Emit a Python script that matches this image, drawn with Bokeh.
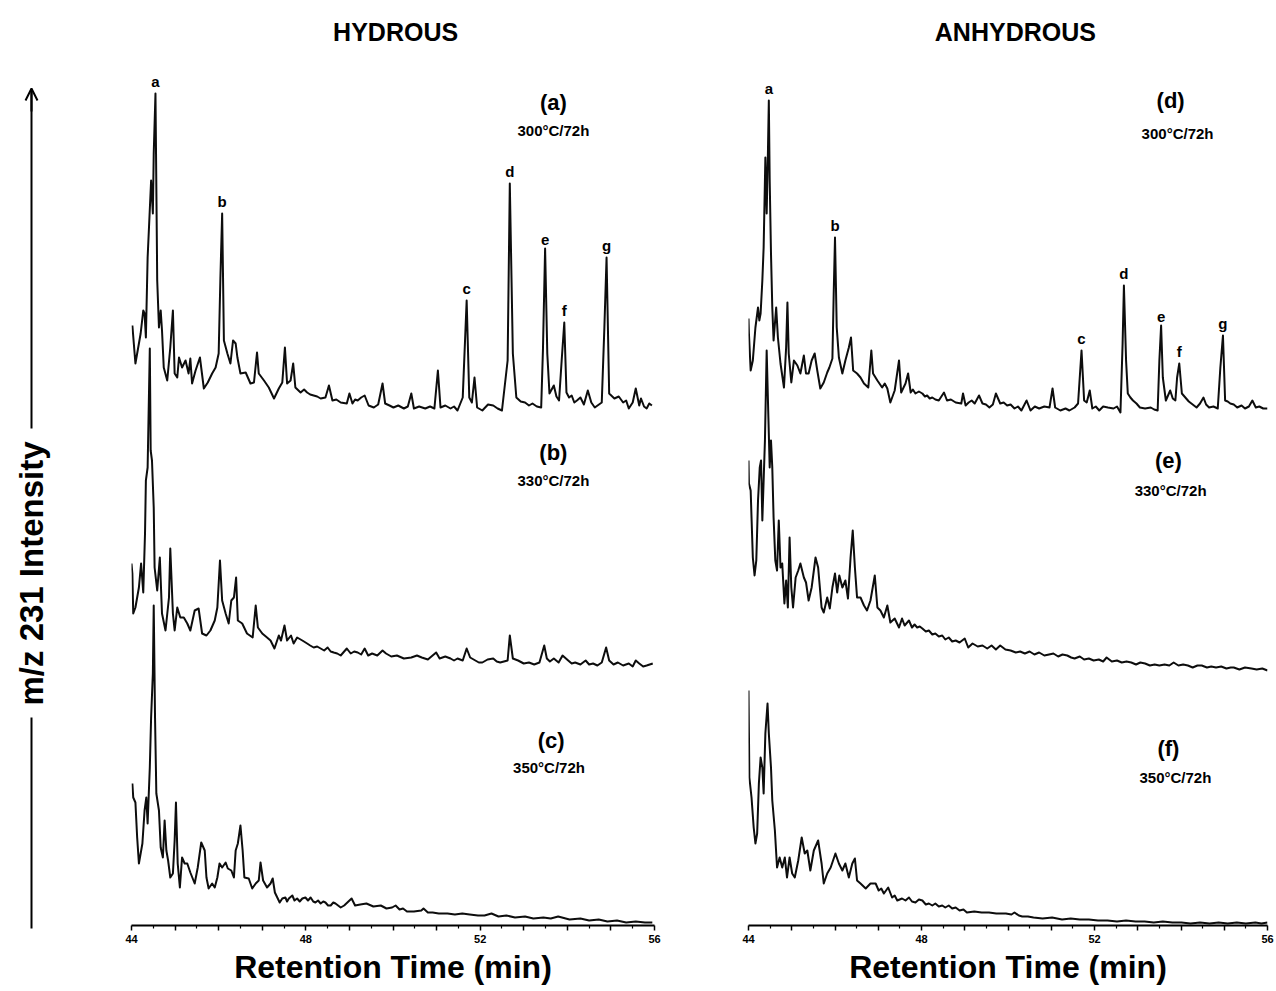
from math import pi
from bokeh.plotting import figure
from bokeh.layouts import row
from bokeh.models import Range1d, FixedTicker, Label, Arrow, OpenHead
from bokeh.embed import file_html
from bokeh.resources import INLINE

FONT = "Liberation Sans"

# ---------------- data ----------------
X_TICKS = list(range(44, 57))
X_MINOR = [44.5 + k for k in range(12)]
X_TICK_LABELS = {44: "44", 48: "48", 52: "52", 56: "56"}

PEAK_LETTERS = ["a", "b", "c", "d", "e", "f", "g"]
HYD_PEAK_T = [44.55, 46.08, 51.69, 52.68, 53.49, 53.93, 54.90]
ANH_PEAK_T = [44.47, 46.00, 51.70, 52.68, 53.54, 53.96, 54.97]

HYD_TAGS = ["(a)", "(b)", "(c)"]
ANH_TAGS = ["(d)", "(e)", "(f)"]
CONDITIONS = ["300°C/72h", "330°C/72h", "350°C/72h"]

# (retention time [min], m/z 231 intensity [arb.])
HYD_300 = [(44.02, 85), (44.09, 47), (44.21, 77), (44.27, 100), (44.30, 97), (44.33, 73), (44.37, 153),
           (44.45, 230), (44.49, 197), (44.51, 257), (44.55, 317), (44.59, 130), (44.63, 83), (44.67, 100),
           (44.70, 80), (44.74, 43), (44.82, 30), (44.89, 63), (44.95, 100), (44.99, 37), (45.05, 33),
           (45.09, 53), (45.16, 43), (45.24, 50), (45.31, 37), (45.35, 52), (45.39, 27), (45.47, 40),
           (45.57, 53), (45.66, 22), (45.75, 28), (45.85, 37), (45.93, 43), (46.00, 57), (46.04, 133),
           (46.08, 197), (46.12, 70), (46.20, 57), (46.27, 47), (46.33, 70), (46.39, 67), (46.43, 53),
           (46.50, 37), (46.62, 38), (46.73, 27), (46.81, 28), (46.88, 58), (46.92, 37), (47.04, 30),
           (47.15, 23), (47.27, 12), (47.38, 22), (47.46, 28), (47.52, 63), (47.57, 27), (47.65, 30),
           (47.71, 47), (47.76, 23), (47.88, 18), (47.96, 21), (48.03, 18), (48.10, 16), (48.18, 15),
           (48.26, 14), (48.34, 12), (48.45, 13), (48.53, 25), (48.61, 10), (48.70, 11), (48.80, 8),
           (48.94, 7), (49.00, 17), (49.07, 7), (49.13, 11), (49.19, 10), (49.27, 13), (49.35, 15),
           (49.44, 5), (49.56, 3), (49.66, 6), (49.76, 27), (49.82, 7), (49.92, 5), (50.01, 3),
           (50.12, 5), (50.25, 2), (50.34, 4), (50.42, 17), (50.48, 2), (50.60, 4), (50.74, 2),
           (50.85, 4), (50.95, 2), (51.03, 40), (51.09, 3), (51.20, 5), (51.32, 2), (51.40, 4),
           (51.48, 0), (51.60, 13), (51.69, 110), (51.75, 13), (51.81, 8), (51.87, 33), (51.93, 3),
           (52.05, 0), (52.18, 6), (52.30, 5), (52.40, 2), (52.50, 0), (52.63, 50), (52.68, 227),
           (52.75, 57), (52.83, 13), (52.93, 9), (53.03, 8), (53.12, 5), (53.20, 7), (53.30, 4),
           (53.40, 3), (53.44, 60), (53.49, 162), (53.54, 57), (53.59, 17), (53.69, 25), (53.75, 14),
           (53.81, 10), (53.87, 50), (53.93, 88), (53.98, 18), (54.04, 13), (54.10, 15), (54.16, 8),
           (54.22, 10), (54.30, 13), (54.38, 6), (54.47, 20), (54.55, 8), (54.63, 3), (54.79, 8),
           (54.85, 83), (54.90, 153), (54.96, 17), (55.08, 12), (55.18, 14), (55.28, 8), (55.35, 10),
           (55.41, 2), (55.50, 8), (55.57, 22), (55.65, 5), (55.69, 12), (55.76, 4), (55.82, 2),
           (55.88, 7), (55.94, 5)]

HYD_330 = [(44.00, 107), (44.02, 97), (44.04, 57), (44.09, 63), (44.17, 83), (44.22, 107), (44.27, 78),
           (44.31, 137), (44.33, 190), (44.37, 203), (44.42, 322), (44.44, 220), (44.47, 210), (44.51, 163),
           (44.53, 103), (44.59, 80), (44.65, 113), (44.70, 57), (44.78, 40), (44.86, 73), (44.89, 122),
           (44.95, 57), (44.99, 40), (45.05, 63), (45.12, 53), (45.20, 53), (45.28, 47), (45.35, 40),
           (45.45, 60), (45.54, 62), (45.62, 37), (45.72, 35), (45.81, 40), (45.91, 50), (45.97, 63),
           (46.03, 110), (46.08, 70), (46.16, 57), (46.23, 47), (46.29, 70), (46.35, 73), (46.40, 93),
           (46.44, 50), (46.54, 47), (46.65, 37), (46.78, 33), (46.85, 65), (46.90, 43), (47.00, 37),
           (47.11, 33), (47.19, 30), (47.28, 22), (47.38, 35), (47.43, 30), (47.51, 45), (47.57, 30),
           (47.66, 35), (47.72, 27), (47.80, 33), (47.92, 30), (48.03, 27), (48.10, 25), (48.18, 23),
           (48.26, 24), (48.34, 22), (48.42, 20), (48.50, 23), (48.57, 19), (48.64, 18), (48.72, 17),
           (48.80, 15), (48.94, 22), (49.03, 17), (49.11, 19), (49.19, 18), (49.27, 16), (49.35, 22),
           (49.43, 15), (49.52, 17), (49.64, 15), (49.76, 20), (49.84, 17), (49.96, 14), (50.09, 15),
           (50.25, 12), (50.42, 13), (50.55, 15), (50.66, 13), (50.80, 11), (50.99, 18), (51.07, 12),
           (51.20, 14), (51.32, 12), (51.40, 10), (51.48, 12), (51.60, 10), (51.69, 22), (51.77, 13),
           (51.89, 10), (51.97, 8), (52.05, 8), (52.17, 11), (52.30, 12), (52.38, 9), (52.46, 8),
           (52.63, 10), (52.68, 35), (52.75, 12), (52.87, 10), (53.00, 7), (53.12, 8), (53.24, 6),
           (53.36, 8), (53.47, 25), (53.53, 12), (53.60, 9), (53.69, 12), (53.80, 8), (53.89, 15),
           (54.02, 10), (54.10, 7), (54.18, 8), (54.30, 6), (54.42, 10), (54.50, 6), (54.59, 7),
           (54.69, 5), (54.79, 8), (54.89, 23), (54.96, 10), (55.06, 6), (55.16, 8), (55.28, 5),
           (55.41, 7), (55.50, 4), (55.57, 10), (55.65, 7), (55.74, 4), (55.82, 5), (55.96, 7)]

HYD_350 = [(44.02, 142), (44.04, 128), (44.09, 123), (44.13, 88), (44.17, 62), (44.25, 82), (44.30, 115),
           (44.34, 128), (44.37, 102), (44.42, 158), (44.45, 208), (44.49, 252), (44.51, 320), (44.54, 208),
           (44.57, 132), (44.63, 115), (44.67, 78), (44.72, 68), (44.76, 105), (44.80, 75), (44.84, 65),
           (44.89, 48), (44.95, 52), (44.99, 85), (45.02, 123), (45.06, 62), (45.11, 38), (45.16, 68),
           (45.22, 62), (45.28, 62), (45.35, 53), (45.45, 42), (45.52, 58), (45.60, 83), (45.68, 75),
           (45.72, 48), (45.77, 37), (45.85, 42), (45.91, 38), (45.97, 48), (46.02, 62), (46.08, 58),
           (46.16, 63), (46.21, 57), (46.29, 55), (46.35, 48), (46.39, 75), (46.44, 82), (46.50, 100),
           (46.55, 75), (46.59, 48), (46.69, 47), (46.77, 37), (46.85, 42), (46.92, 45), (46.96, 63),
           (47.02, 45), (47.11, 38), (47.19, 42), (47.24, 47), (47.29, 33), (47.40, 23), (47.46, 27),
           (47.53, 28), (47.57, 24), (47.61, 27), (47.69, 30), (47.74, 25), (47.80, 27), (47.86, 24),
           (47.92, 27), (47.99, 28), (48.05, 25), (48.11, 28), (48.17, 24), (48.22, 23), (48.28, 25),
           (48.34, 22), (48.40, 24), (48.45, 23), (48.51, 20), (48.57, 20), (48.63, 23), (48.68, 22),
           (48.80, 18), (48.88, 20), (49.05, 27), (49.13, 20), (49.25, 21), (49.39, 22), (49.55, 19),
           (49.72, 20), (49.85, 17), (49.98, 18), (50.06, 20), (50.15, 16), (50.23, 17), (50.32, 14),
           (50.48, 14), (50.65, 15), (50.70, 17), (50.80, 13), (50.91, 13), (51.05, 12), (51.25, 12),
           (51.42, 11), (51.59, 12), (51.76, 11), (51.95, 10), (52.10, 10), (52.26, 12), (52.42, 9),
           (52.60, 10), (52.80, 8), (53.03, 9), (53.22, 7), (53.45, 8), (53.62, 7), (53.79, 9),
           (54.05, 6), (54.30, 7), (54.50, 5), (54.72, 6), (54.92, 4), (55.14, 5), (55.35, 3),
           (55.57, 4), (55.78, 3), (55.95, 3)]

ANH_300 = [(44.00, 92), (44.01, 77), (44.05, 40), (44.10, 50), (44.16, 83), (44.22, 103), (44.25, 90),
           (44.28, 97), (44.32, 130), (44.35, 163), (44.39, 253), (44.42, 197), (44.45, 260), (44.47, 310),
           (44.49, 230), (44.52, 157), (44.55, 103), (44.58, 70), (44.64, 103), (44.68, 73), (44.74, 47),
           (44.82, 23), (44.87, 63), (44.90, 108), (44.93, 57), (44.99, 28), (45.05, 50), (45.13, 45),
           (45.20, 37), (45.28, 55), (45.33, 37), (45.39, 37), (45.46, 50), (45.53, 57), (45.59, 40),
           (45.66, 22), (45.74, 28), (45.82, 38), (45.87, 43), (45.94, 52), (45.97, 117), (46.00, 173),
           (46.04, 83), (46.09, 53), (46.17, 37), (46.24, 50), (46.32, 63), (46.37, 73), (46.42, 40),
           (46.51, 37), (46.59, 33), (46.67, 27), (46.77, 23), (46.84, 60), (46.88, 37), (46.98, 30),
           (47.09, 23), (47.15, 27), (47.21, 22), (47.28, 8), (47.38, 20), (47.48, 50), (47.53, 18),
           (47.63, 27), (47.69, 37), (47.75, 18), (47.80, 21), (47.86, 17), (47.94, 19), (48.02, 17),
           (48.08, 14), (48.13, 15), (48.19, 12), (48.25, 13), (48.32, 11), (48.40, 10), (48.52, 18),
           (48.59, 10), (48.68, 11), (48.79, 8), (48.92, 7), (48.96, 17), (49.02, 5), (49.09, 8),
           (49.16, 10), (49.23, 7), (49.33, 15), (49.41, 7), (49.49, 6), (49.57, 3), (49.65, 6),
           (49.72, 17), (49.82, 7), (49.90, 8), (49.98, 5), (50.06, 6), (50.15, 2), (50.23, 4),
           (50.31, 0), (50.43, 10), (50.52, 0), (50.62, 4), (50.72, 2), (50.84, 4), (50.96, 3),
           (51.03, 22), (51.09, 3), (51.21, 0), (51.33, 2), (51.42, 0), (51.54, 3), (51.62, 7),
           (51.70, 60), (51.76, 10), (51.82, 8), (51.89, 20), (51.95, 2), (52.03, 4), (52.11, 0),
           (52.20, 4), (52.31, 3), (52.44, 2), (52.52, 4), (52.60, -2), (52.65, 67), (52.68, 125),
           (52.73, 50), (52.77, 17), (52.83, 13), (52.89, 10), (52.97, 7), (53.05, 3), (53.17, 2),
           (53.30, 3), (53.38, 1), (53.46, 0), (53.50, 50), (53.54, 85), (53.58, 33), (53.65, 10),
           (53.75, 20), (53.81, 12), (53.87, 10), (53.91, 33), (53.96, 47), (54.02, 17), (54.12, 12),
           (54.18, 9), (54.24, 7), (54.30, 5), (54.36, 3), (54.44, 7), (54.52, 13), (54.58, 6),
           (54.65, 3), (54.75, 4), (54.85, 2), (54.91, 43), (54.97, 75), (55.02, 10), (55.08, 9),
           (55.14, 7), (55.22, 6), (55.30, 3), (55.40, 5), (55.48, 2), (55.57, 4), (55.65, 10),
           (55.73, 3), (55.81, 4), (55.90, 2), (56.00, 2)]

ANH_330 = [(44.00, 210), (44.01, 187), (44.05, 180), (44.07, 153), (44.10, 113), (44.14, 95), (44.18, 110),
           (44.22, 170), (44.26, 203), (44.29, 210), (44.32, 150), (44.35, 190), (44.38, 230), (44.42, 320),
           (44.46, 253), (44.49, 203), (44.52, 230), (44.55, 203), (44.58, 153), (44.62, 110), (44.66, 100),
           (44.70, 150), (44.74, 103), (44.78, 107), (44.83, 67), (44.87, 90), (44.91, 63), (44.95, 133),
           (44.99, 83), (45.03, 63), (45.09, 93), (45.15, 100), (45.20, 107), (45.28, 93), (45.33, 88),
           (45.39, 70), (45.46, 83), (45.55, 113), (45.61, 103), (45.69, 63), (45.74, 58), (45.82, 73),
           (45.88, 62), (45.94, 83), (46.00, 97), (46.05, 78), (46.10, 95), (46.17, 83), (46.24, 90),
           (46.30, 72), (46.36, 113), (46.41, 140), (46.46, 103), (46.51, 73), (46.59, 73), (46.67, 65),
           (46.74, 60), (46.82, 70), (46.92, 95), (46.98, 63), (47.05, 60), (47.13, 53), (47.21, 65),
           (47.28, 48), (47.38, 52), (47.48, 43), (47.55, 52), (47.61, 45), (47.71, 50), (47.78, 43),
           (47.84, 46), (47.90, 43), (47.96, 44), (48.02, 42), (48.10, 39), (48.17, 40), (48.25, 36),
           (48.32, 37), (48.40, 34), (48.48, 35), (48.55, 31), (48.63, 33), (48.71, 29), (48.79, 30),
           (48.88, 28), (49.00, 32), (49.08, 23), (49.18, 27), (49.30, 24), (49.41, 25), (49.52, 22),
           (49.62, 25), (49.72, 21), (49.82, 25), (49.94, 21), (50.06, 20), (50.18, 18), (50.28, 19),
           (50.39, 17), (50.50, 19), (50.61, 16), (50.72, 18), (50.84, 15), (50.95, 16), (51.05, 17),
           (51.16, 14), (51.26, 16), (51.37, 15), (51.46, 13), (51.54, 12), (51.66, 14), (51.76, 11),
           (51.87, 12), (51.98, 10), (52.10, 11), (52.20, 9), (52.28, 13), (52.40, 9), (52.52, 10),
           (52.63, 8), (52.74, 9), (52.85, 8), (52.96, 6), (53.06, 8), (53.17, 7), (53.28, 5),
           (53.39, 6), (53.50, 5), (53.62, 6), (53.73, 5), (53.83, 8), (53.94, 5), (54.05, 6),
           (54.16, 5), (54.27, 3), (54.38, 5), (54.48, 5), (54.60, 3), (54.70, 4), (54.81, 3),
           (54.93, 4), (55.05, 2), (55.15, 3), (55.22, 3), (55.35, 1), (55.48, 3), (55.63, 2),
           (55.75, 1), (55.88, 2), (56.00, 0)]

ANH_350 = [(44.00, 235), (44.01, 192), (44.02, 148), (44.07, 128), (44.12, 98), (44.16, 82), (44.20, 92),
           (44.24, 142), (44.28, 168), (44.32, 158), (44.35, 132), (44.39, 192), (44.44, 222), (44.47, 192),
           (44.52, 158), (44.55, 125), (44.61, 95), (44.66, 58), (44.72, 68), (44.78, 58), (44.84, 68),
           (44.89, 48), (44.95, 68), (45.01, 52), (45.07, 48), (45.15, 65), (45.23, 88), (45.30, 72),
           (45.36, 75), (45.43, 55), (45.51, 75), (45.61, 85), (45.69, 62), (45.74, 42), (45.82, 52),
           (45.90, 58), (46.01, 72), (46.09, 62), (46.17, 55), (46.24, 62), (46.32, 48), (46.40, 62),
           (46.46, 67), (46.51, 45), (46.59, 42), (46.71, 37), (46.82, 42), (46.94, 42), (47.01, 35),
           (47.07, 37), (47.13, 32), (47.23, 38), (47.32, 28), (47.38, 30), (47.44, 25), (47.55, 27),
           (47.63, 25), (47.71, 28), (47.78, 24), (47.86, 23), (47.94, 26), (48.02, 25), (48.10, 21),
           (48.17, 22), (48.25, 20), (48.32, 22), (48.40, 19), (48.48, 20), (48.55, 18), (48.63, 20),
           (48.71, 17), (48.79, 18), (48.88, 15), (48.97, 16), (49.05, 13), (49.22, 14), (49.39, 13),
           (49.56, 13), (49.73, 12), (49.95, 12), (50.08, 11), (50.15, 13), (50.25, 10), (50.33, 9),
           (50.46, 9), (50.59, 8), (50.80, 7), (51.02, 8), (51.25, 6), (51.45, 7), (51.66, 6),
           (51.87, 6), (52.08, 5), (52.30, 5), (52.52, 4), (52.73, 5), (52.95, 4), (53.16, 4),
           (53.37, 3), (53.58, 4), (53.80, 3), (54.01, 3), (54.22, 2), (54.44, 3), (54.66, 2),
           (54.87, 3), (55.08, 2), (55.29, 3), (55.50, 2), (55.72, 3), (55.86, 2), (56.00, 3)]

# vertical stacking of the three chromatograms in each panel (layout)
OFFSETS = [515, 255, 0]
Y_MAX = 925


def style_axis(p):
    ax = p.xaxis[0]
    ax.ticker = FixedTicker(ticks=X_TICKS, minor_ticks=X_MINOR)
    ax.major_label_overrides = {t: X_TICK_LABELS.get(t, "") for t in X_TICKS}
    ax.axis_line_width = 2
    ax.axis_line_color = "black"
    ax.major_tick_in = 0
    ax.major_tick_out = 5
    ax.major_tick_line_width = 1.5
    ax.minor_tick_in = 0
    ax.minor_tick_out = 3
    ax.minor_tick_line_width = 1.2
    ax.major_label_text_font = FONT
    ax.major_label_text_font_style = "bold"
    ax.major_label_text_font_size = "11px"
    ax.major_label_text_color = "black"
    ax.major_label_standoff = 4
    ax.axis_label = "Retention Time (min)"
    ax.axis_label_text_font = FONT
    ax.axis_label_text_font_style = "bold"
    ax.axis_label_text_font_size = "32px"
    ax.axis_label_text_color = "black"
    ax.axis_label_standoff = 3


def make_panel(traces, tags, peak_t, title, title_x, tag_pos, cond_pos, border_l, frame_w, border_r):
    p = figure(frame_width=frame_w, frame_height=Y_MAX, x_range=Range1d(44, 56), y_range=Range1d(0, Y_MAX),
               y_axis_location=None, toolbar_location=None, output_backend="svg",
               min_border_left=border_l, min_border_right=border_r, min_border_top=0, min_border_bottom=66)
    p.outline_line_color = None
    p.grid.visible = False
    p.background_fill_color = "white"
    p.border_fill_color = "white"
    style_axis(p)

    for series, off in zip(traces, OFFSETS):
        ts = [t for t, _ in series]
        ys = [v + off for _, v in series]
        p.line(ts, ys, line_color="#0d0d0d", line_width=2.0, line_join="round")

    # peak letters above the top chromatogram
    top = traces[0]
    for letter, t0 in zip(PEAK_LETTERS, peak_t):
        h = max(v for t, v in top if abs(t - t0) <= 0.03)
        p.add_layout(Label(x=t0, y=h + OFFSETS[0] + 4, text=letter, text_align="center",
                           text_baseline="bottom", text_font=FONT, text_font_style="bold",
                           text_font_size="15px", text_color="black"))

    for tag, cond, (tx, ty), (cx, cy) in zip(tags, CONDITIONS, tag_pos, cond_pos):
        p.add_layout(Label(x=tx, y=ty, text=tag, text_align="center", text_baseline="middle",
                           text_font=FONT, text_font_style="bold", text_font_size="22px",
                           text_color="black"))
        p.add_layout(Label(x=cx, y=cy, text=cond, text_align="center", text_baseline="middle",
                           text_font=FONT, text_font_style="bold", text_font_size="15px",
                           text_color="black"))

    p.add_layout(Label(x=title_x, y=Y_MAX - 31, text=title, text_align="center", text_baseline="middle",
                       text_font=FONT, text_font_style="bold", text_font_size="25px", text_color="black"))
    return p


left = make_panel([HYD_300, HYD_330, HYD_350], HYD_TAGS, HYD_PEAK_T, "HYDROUS", 50.06,
                  [(53.68, 823), (53.68, 473), (53.63, 185)],
                  [(53.68, 795), (53.68, 445), (53.58, 158)],
                  71, 523, 36)
right = make_panel([ANH_300, ANH_330, ANH_350], ANH_TAGS, ANH_PEAK_T, "ANHYDROUS", 50.17,
                   [(53.76, 825), (53.71, 465), (53.71, 177)],
                   [(53.92, 792), (53.76, 435), (53.87, 148)],
                   58, 519, 9)

# y-axis label with arrow
lab = figure(frame_width=60, frame_height=991, x_range=Range1d(0, 60), y_range=Range1d(0, 991),
             x_axis_location=None, y_axis_location=None, toolbar_location=None, output_backend="svg",
             min_border=0)
lab.outline_line_color = None
lab.grid.visible = False
lab.segment(x0=[31, 31], y0=[63, 563], x1=[31, 31], y1=[274, 900], line_color="black", line_width=2)
lab.add_layout(Arrow(end=OpenHead(size=12, line_width=2, line_color="black"), x_start=31, y_start=880,
                     x_end=31, y_end=903, line_width=2, line_color="black"))
lab.add_layout(Label(x=31, y=418, text="m/z 231 Intensity", angle=pi / 2, text_align="center",
                     text_baseline="middle", text_font=FONT, text_font_style="bold",
                     text_font_size="33px", text_color="black"))

layout = row(lab, left, right)
open("out.html", "w").write(file_html(layout, INLINE))
